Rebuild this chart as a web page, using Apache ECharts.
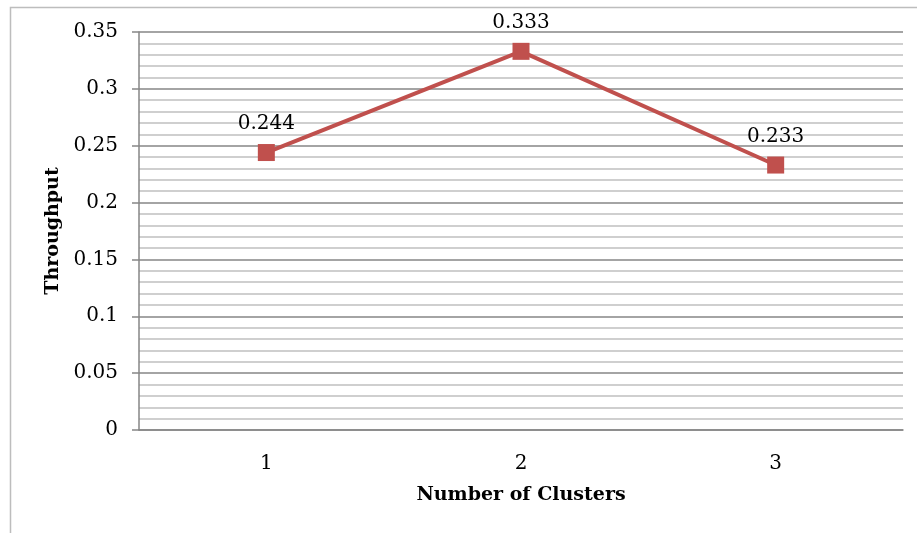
<!DOCTYPE html>
<html>
<head>
<meta charset="utf-8">
<script src="https://cdn.jsdelivr.net/npm/echarts@6/dist/echarts.min.js"></script>
<style>html,body{margin:0;padding:0;background:#fff}#c{width:917px;height:533px}</style>
</head>
<body>
<div id="c"></div>
<script>
var categories = ['1', '2', '3'];
var throughput = [0.244, 0.333, 0.233];
var yTicks = [0, 0.05, 0.1, 0.15, 0.2, 0.25, 0.3, 0.35];

var chart = echarts.init(document.getElementById('c'), null, {renderer: 'canvas'});
var font = '"DejaVu Serif", "Liberation Serif", serif';
chart.setOption({
  animation: false,
  graphic: [{
    type: 'rect', left: 8, top: 5,
    shape: {width: 1000, height: 600},
    style: {fill: 'none', stroke: '#bdbdbd', lineWidth: 1.5},
    silent: true
  }],
  grid: {left: 139, right: 14, top: 32, bottom: 103},
  xAxis: {
    type: 'category',
    data: categories,
    boundaryGap: true,
    name: 'Number of Clusters',
    nameLocation: 'middle',
    nameGap: 56,
    nameTextStyle: {fontFamily: font, fontWeight: 'bold', fontSize: 19, color: '#000'},
    axisLine: {lineStyle: {color: '#868686', width: 1.5}},
    axisTick: {show: false},
    axisLabel: {margin: 24, fontFamily: font, fontSize: 20, color: '#000'},
    splitLine: {show: false}
  },
  yAxis: {
    type: 'value',
    min: yTicks[0],
    max: yTicks[yTicks.length - 1],
    interval: 0.05,
    name: 'Throughput',
    nameLocation: 'middle',
    nameGap: 74,
    nameRotate: 90,
    nameTextStyle: {fontFamily: font, fontWeight: 'bold', fontSize: 19, color: '#000'},
    axisLine: {show: true, lineStyle: {color: '#868686', width: 1.5}},
    axisTick: {show: true, length: 7, lineStyle: {color: '#868686', width: 1.5}},
    axisLabel: {margin: 21, fontFamily: font, fontSize: 20, color: '#000',
      formatter: function (v) { return String(Math.round(v * 100) / 100); }},
    splitLine: {show: true, lineStyle: {color: '#868686', width: 1.5}},
    minorTick: {show: false, splitNumber: 5},
    minorSplitLine: {show: true, lineStyle: {color: '#c0c0c0', width: 1.5}}
  },
  series: [{
    type: 'line',
    data: throughput,
    symbol: 'rect',
    symbolSize: 17,
    lineStyle: {color: '#c0504d', width: 4},
    itemStyle: {color: '#c0504d'},
    label: {show: true, position: 'top', distance: 10, fontFamily: font, fontSize: 20, color: '#000',
      formatter: function (p) { return p.value.toFixed(3); }}
  }]
});
</script>
</body>
</html>
